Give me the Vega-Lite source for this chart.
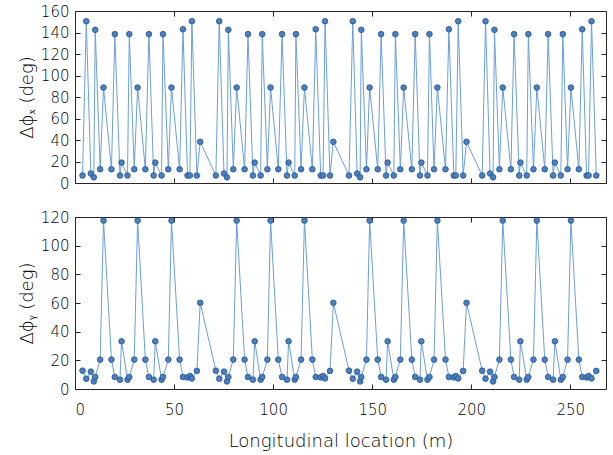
{
  "$schema": "https://vega.github.io/schema/vega-lite/v6.json",
  "padding": {"left": 17, "top": 3, "right": 1, "bottom": 2},
  "background": "white",
  "config": {
    "view": {"stroke": "#262626", "strokeWidth": 1},
    "font": "DejaVu Sans",
    "axis": {
      "labelFont": "DejaVu Sans", "titleFont": "DejaVu Sans",
      "labelFontSize": 15, "titleFontSize": 18,
      "labelFontWeight": 200, "titleFontWeight": 200,
      "labelColor": "#000000", "titleColor": "#000000",
      "grid": false, "domain": false, "tickColor": "#262626",
      "tickSize": -5, "labelPadding": 11, "tickWidth": 1
    }
  },
  "data": {"values": [
    {"x": 3.8, "dx": 7, "dy": 12.8}, {"x": 5.7, "dx": 150.5, "dy": 7.2}, {"x": 8.0, "dx": 8.8, "dy": 12.1}, {"x": 9.5, "dx": 5.3, "dy": 5.3}, {"x": 10.2, "dx": 142.5, "dy": 8.4},
    {"x": 12.7, "dx": 12.8, "dy": 20.5}, {"x": 14.4, "dx": 88.8, "dy": 117.5}, {"x": 18.4, "dx": 12.8, "dy": 20.5}, {"x": 20.1, "dx": 138.5, "dy": 8.4}, {"x": 22.7, "dx": 7, "dy": 6.5},
    {"x": 23.5, "dx": 19, "dy": 33.3}, {"x": 26.5, "dx": 7, "dy": 6.5}, {"x": 27.4, "dx": 138.5, "dy": 8.4}, {"x": 29.9, "dx": 12.8, "dy": 20.5}, {"x": 31.6, "dx": 88.8, "dy": 117.5},
    {"x": 35.5, "dx": 12.8, "dy": 20.5}, {"x": 37.3, "dx": 138.5, "dy": 8.4}, {"x": 39.7, "dx": 7, "dy": 6.5}, {"x": 40.5, "dx": 19, "dy": 33.3}, {"x": 43.7, "dx": 7, "dy": 6.5},
    {"x": 44.4, "dx": 138.5, "dy": 8.4}, {"x": 47.1, "dx": 12.8, "dy": 20.5}, {"x": 48.7, "dx": 88.8, "dy": 117.5}, {"x": 52.8, "dx": 12.8, "dy": 20.5}, {"x": 54.5, "dx": 143, "dy": 8.4},
    {"x": 56.8, "dx": 7, "dy": 8.1}, {"x": 58.0, "dx": 7, "dy": 9.1}, {"x": 59.0, "dx": 150.5, "dy": 7.4}, {"x": 61.5, "dx": 7, "dy": 12.6}, {"x": 63.2, "dx": 38.3, "dy": 60.1},
    {"x": 71.1, "dx": 7, "dy": 12.8}, {"x": 72.8, "dx": 150.5, "dy": 7.2}, {"x": 75.2, "dx": 8.8, "dy": 12.1}, {"x": 76.7, "dx": 5.3, "dy": 5.3}, {"x": 77.4, "dx": 142.5, "dy": 8.4},
    {"x": 79.9, "dx": 12.8, "dy": 20.5}, {"x": 81.6, "dx": 88.8, "dy": 117.5}, {"x": 85.6, "dx": 12.8, "dy": 20.5}, {"x": 87.3, "dx": 138.5, "dy": 8.4}, {"x": 89.8, "dx": 7, "dy": 6.5},
    {"x": 90.7, "dx": 19, "dy": 33.3}, {"x": 93.7, "dx": 7, "dy": 6.5}, {"x": 94.5, "dx": 138.5, "dy": 8.4}, {"x": 97.1, "dx": 12.8, "dy": 20.5}, {"x": 98.7, "dx": 88.8, "dy": 117.5},
    {"x": 102.6, "dx": 12.8, "dy": 20.5}, {"x": 104.5, "dx": 138.5, "dy": 8.4}, {"x": 107.0, "dx": 7, "dy": 6.5}, {"x": 107.8, "dx": 19, "dy": 33.3}, {"x": 110.9, "dx": 7, "dy": 6.5},
    {"x": 111.5, "dx": 138.5, "dy": 8.4}, {"x": 114.1, "dx": 12.8, "dy": 20.5}, {"x": 115.8, "dx": 88.8, "dy": 117.5}, {"x": 119.8, "dx": 12.8, "dy": 20.5}, {"x": 121.5, "dx": 143, "dy": 8.4},
    {"x": 124.0, "dx": 7, "dy": 8.1}, {"x": 125.2, "dx": 7, "dy": 9.1}, {"x": 126.2, "dx": 150.5, "dy": 7.4}, {"x": 128.7, "dx": 7, "dy": 12.6}, {"x": 130.4, "dx": 38.3, "dy": 60.1},
    {"x": 138.3, "dx": 7, "dy": 12.8}, {"x": 140.2, "dx": 150.5, "dy": 7.2}, {"x": 142.4, "dx": 8.8, "dy": 12.1}, {"x": 143.9, "dx": 5.3, "dy": 5.3}, {"x": 144.5, "dx": 142.5, "dy": 8.4},
    {"x": 147.1, "dx": 12.8, "dy": 20.5}, {"x": 148.7, "dx": 88.8, "dy": 117.5}, {"x": 152.8, "dx": 12.8, "dy": 20.5}, {"x": 154.5, "dx": 138.5, "dy": 8.4}, {"x": 157.0, "dx": 7, "dy": 6.5},
    {"x": 157.8, "dx": 19, "dy": 33.3}, {"x": 160.9, "dx": 7, "dy": 6.5}, {"x": 161.7, "dx": 138.5, "dy": 8.4}, {"x": 164.2, "dx": 12.8, "dy": 20.5}, {"x": 165.9, "dx": 88.8, "dy": 117.5},
    {"x": 170.0, "dx": 12.8, "dy": 20.5}, {"x": 171.7, "dx": 138.5, "dy": 8.4}, {"x": 174.1, "dx": 7, "dy": 6.5}, {"x": 174.8, "dx": 19, "dy": 33.3}, {"x": 177.9, "dx": 7, "dy": 6.5},
    {"x": 178.9, "dx": 138.5, "dy": 8.4}, {"x": 181.2, "dx": 12.8, "dy": 20.5}, {"x": 182.9, "dx": 88.8, "dy": 117.5}, {"x": 187.0, "dx": 12.8, "dy": 20.5}, {"x": 188.7, "dx": 143, "dy": 8.4},
    {"x": 191.2, "dx": 7, "dy": 8.1}, {"x": 192.2, "dx": 7, "dy": 9.1}, {"x": 193.4, "dx": 150.5, "dy": 7.4}, {"x": 195.9, "dx": 7, "dy": 12.6}, {"x": 197.6, "dx": 38.3, "dy": 60.1},
    {"x": 205.5, "dx": 7, "dy": 12.8}, {"x": 207.2, "dx": 150.5, "dy": 7.2}, {"x": 209.5, "dx": 8.8, "dy": 12.1}, {"x": 211.0, "dx": 5.3, "dy": 5.3}, {"x": 211.7, "dx": 142.5, "dy": 8.4},
    {"x": 214.2, "dx": 12.8, "dy": 20.5}, {"x": 215.9, "dx": 88.8, "dy": 117.5}, {"x": 220.0, "dx": 12.8, "dy": 20.5}, {"x": 221.6, "dx": 138.5, "dy": 8.4}, {"x": 224.2, "dx": 7, "dy": 6.5},
    {"x": 224.8, "dx": 19, "dy": 33.3}, {"x": 228.0, "dx": 7, "dy": 6.5}, {"x": 228.8, "dx": 138.5, "dy": 8.4}, {"x": 231.4, "dx": 12.8, "dy": 20.5}, {"x": 233.1, "dx": 88.8, "dy": 117.5},
    {"x": 237.1, "dx": 12.8, "dy": 20.5}, {"x": 238.8, "dx": 138.5, "dy": 8.4}, {"x": 241.3, "dx": 7, "dy": 6.5}, {"x": 242.2, "dx": 19, "dy": 33.3}, {"x": 245.2, "dx": 7, "dy": 6.5},
    {"x": 246.2, "dx": 138.5, "dy": 8.4}, {"x": 248.6, "dx": 12.8, "dy": 20.5}, {"x": 250.3, "dx": 88.8, "dy": 117.5}, {"x": 254.3, "dx": 12.8, "dy": 20.5}, {"x": 256.0, "dx": 143, "dy": 8.4},
    {"x": 258.2, "dx": 7, "dy": 8.1}, {"x": 259.2, "dx": 7, "dy": 9.1}, {"x": 260.7, "dx": 150.5, "dy": 7.4}, {"x": 263.1, "dx": 7, "dy": 12.6}
  ]},
  "spacing": 17,
  "vconcat": [
    {
      "width": 531, "height": 172,
      "layer": [
        {
          "mark": {"type": "line", "color": "#6a9fd8", "strokeWidth": 1},
          "encoding": {
            "x": {"field": "x", "type": "quantitative", "scale": {"domain": [0, 268], "nice": false},
                  "axis": {"labels": false, "title": null, "values": [0, 50, 100, 150, 200, 250]}},
            "y": {"field": "dx", "type": "quantitative", "scale": {"domain": [0, 160], "nice": false},
                  "axis": {"title": "Δϕₓ (deg)", "values": [0, 20, 40, 60, 80, 100, 120, 140, 160], "titlePadding": 4}}
          }
        },
        {
          "mark": {"type": "point", "filled": true, "size": 32, "fill": "#4a7fc0", "stroke": "#25538f", "strokeWidth": 0.8, "opacity": 1},
          "encoding": {
            "x": {"field": "x", "type": "quantitative", "scale": {"domain": [0, 268], "nice": false},
                  "axis": {"orient": "top", "labels": false, "title": null, "values": [0, 50, 100, 150, 200, 250]}},
            "y": {"field": "dx", "type": "quantitative", "scale": {"domain": [0, 160], "nice": false},
                  "axis": {"orient": "right", "labels": false, "title": null, "values": [0, 20, 40, 60, 80, 100, 120, 140, 160]}}
          }
        }
      ],
      "resolve": {"axis": {"x": "independent", "y": "independent"}}
    },
    {
      "width": 531, "height": 172,
      "layer": [
        {
          "mark": {"type": "line", "color": "#6a9fd8", "strokeWidth": 1},
          "encoding": {
            "x": {"field": "x", "type": "quantitative", "scale": {"domain": [0, 268], "nice": false},
                  "axis": {"title": "Longitudinal location (m)", "values": [0, 50, 100, 150, 200, 250], "labelPadding": 18, "titlePadding": 15}},
            "y": {"field": "dy", "type": "quantitative", "scale": {"domain": [0, 120], "nice": false},
                  "axis": {"title": "Δϕᵧ (deg)", "values": [0, 20, 40, 60, 80, 100, 120], "titlePadding": 4}}
          }
        },
        {
          "mark": {"type": "point", "filled": true, "size": 32, "fill": "#4a7fc0", "stroke": "#25538f", "strokeWidth": 0.8, "opacity": 1},
          "encoding": {
            "x": {"field": "x", "type": "quantitative", "scale": {"domain": [0, 268], "nice": false},
                  "axis": {"orient": "top", "labels": false, "title": null, "values": [0, 50, 100, 150, 200, 250]}},
            "y": {"field": "dy", "type": "quantitative", "scale": {"domain": [0, 120], "nice": false},
                  "axis": {"orient": "right", "labels": false, "title": null, "values": [0, 20, 40, 60, 80, 100, 120]}}
          }
        }
      ],
      "resolve": {"axis": {"x": "independent", "y": "independent"}}
    }
  ]
}
